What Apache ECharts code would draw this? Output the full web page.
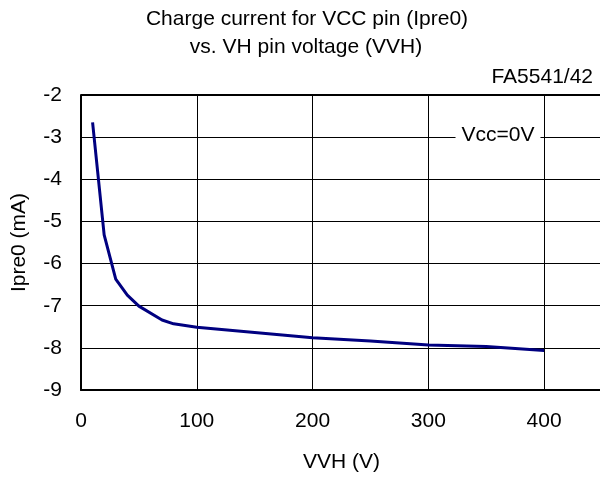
<!DOCTYPE html>
<html><head><meta charset="utf-8">
<script src="https://cdn.jsdelivr.net/npm/echarts@6/dist/echarts.min.js"></script>
<style>html,body{margin:0;padding:0;background:#fff}#c{width:600px;height:477px}</style>
</head><body><div id="c"></div>
<script>
var vvh = [10, 20, 30, 40, 50, 70, 80, 100, 200, 250, 300, 350, 400];
var ipre0 = [-2.65, -5.32, -6.37, -6.75, -7.01, -7.34, -7.43, -7.51, -7.76, -7.84, -7.93, -7.97, -8.06];
var titleLines = ['Charge current for VCC pin (Ipre0)', 'vs. VH pin voltage (VVH)'];
var xName = 'VVH (V)';
var yName = 'Ipre0 (mA)';
var partNo = 'FA5541/42';
var condition = 'Vcc=0V';

var F = 'Liberation Sans, Arial, sans-serif';
var FS = 21;
var chart = echarts.init(document.getElementById('c'), null, {renderer: 'canvas'});
var gridLeft = 81, gridTop = 95, gridW = 521, gridH = 295;
chart.setOption({
  animation: false,
  backgroundColor: '#fff',
  grid: {left: gridLeft, top: gridTop, width: gridW, height: gridH, show: false, containLabel: false, outerBoundsMode: 'none'},
  xAxis: {
    type: 'value', min: 0, max: 450, interval: 100,
    axisLine: {show: true, onZero: false, lineStyle: {color: '#000', width: 2}},
    axisTick: {show: false},
    axisLabel: {color: '#000', fontFamily: F, fontSize: FS, margin: 21, showMaxLabel: false, hideOverlap: false},
    splitLine: {show: true, lineStyle: {color: '#000', width: 1}},
    name: xName, nameLocation: 'middle', nameGap: 62,
    nameTextStyle: {color: '#000', fontFamily: F, fontSize: FS}
  },
  yAxis: {
    type: 'value', min: -9, max: -2, interval: 1,
    axisLine: {show: true, onZero: false, lineStyle: {color: '#000', width: 2}},
    axisTick: {show: false},
    axisLabel: {color: '#000', fontFamily: F, fontSize: FS, margin: 19},
    splitLine: {show: true, lineStyle: {color: '#000', width: 1}},
    name: yName, nameLocation: 'middle', nameGap: 51,
    nameTextStyle: {color: '#000', fontFamily: F, fontSize: FS}
  },
  series: [{
    type: 'line',
    data: vvh.map(function (v, i) { return [v, ipre0[i]]; }),
    showSymbol: false,
    lineStyle: {color: '#000080', width: 3},
    z: 5
  }],
  graphic: [
    {type: 'line', shape: {x1: gridLeft, y1: gridTop, x2: 600, y2: gridTop}, style: {stroke: '#000', lineWidth: 2}, z: 10},
    {type: 'text', style: {x: 307, y: 19, text: titleLines[0], font: FS + 'px ' + F, fill: '#000', textAlign: 'center', textVerticalAlign: 'middle'}},
    {type: 'text', style: {x: 306, y: 47, text: titleLines[1], font: FS + 'px ' + F, fill: '#000', textAlign: 'center', textVerticalAlign: 'middle'}},
    {type: 'text', style: {x: 593, y: 77, text: partNo, font: FS + 'px ' + F, fill: '#000', textAlign: 'right', textVerticalAlign: 'middle'}},
    {type: 'text', style: {x: 498, y: 135, text: condition, font: FS + 'px ' + F, fill: '#000', textAlign: 'center', textVerticalAlign: 'middle', backgroundColor: '#fff', padding: [2, 6]}, z: 20}
  ]
});
</script></body></html>
